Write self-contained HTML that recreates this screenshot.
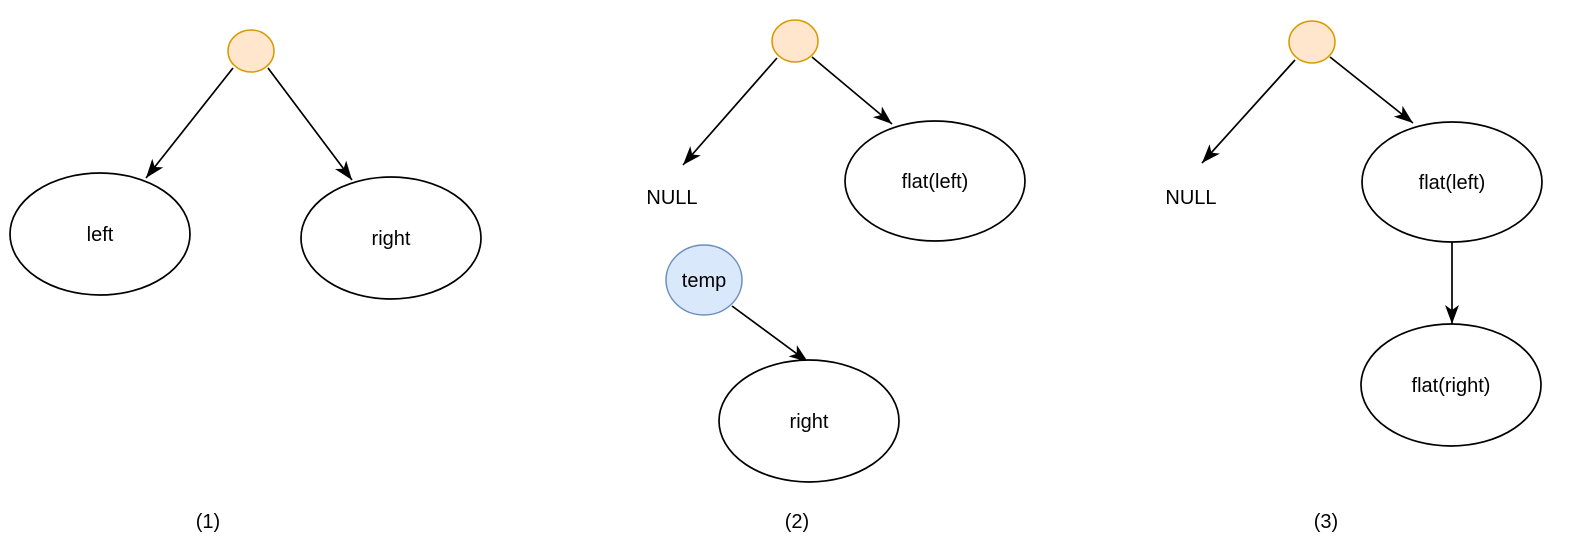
<!DOCTYPE html>
<html><head><style>
html,body{margin:0;padding:0;background:#fff;}
svg text{font-family:"Liberation Sans",Helvetica,Arial,sans-serif;font-size:20px;fill:#000;}
</style></head><body>
<svg width="1574" height="544" viewBox="0 0 1574 544" xmlns="http://www.w3.org/2000/svg">
<g stroke="#000" stroke-width="1.7" fill="none">
<line x1="233" y1="68" x2="146" y2="178"/>
<line x1="268" y1="68" x2="352" y2="180"/>
<line x1="777" y1="58" x2="683" y2="165"/>
<line x1="812" y1="57" x2="892" y2="124"/>
<line x1="732" y1="306" x2="808" y2="362"/>
<line x1="1295" y1="60" x2="1202" y2="163"/>
<line x1="1330" y1="57" x2="1413" y2="123"/>
<line x1="1452" y1="242" x2="1452" y2="324"/>
</g>
<g fill="#000">
<polygon points="0,0 -19,-7 -14,0 -19,7" transform="translate(146,178) rotate(128.3)"/>
<polygon points="0,0 -19,-7 -14,0 -19,7" transform="translate(352,180) rotate(53.1)"/>
<polygon points="0,0 -19,-7 -14,0 -19,7" transform="translate(683,165) rotate(131.3)"/>
<polygon points="0,0 -19,-7 -14,0 -19,7" transform="translate(892,124) rotate(39.9)"/>
<polygon points="0,0 -19,-7 -14,0 -19,7" transform="translate(808,362) rotate(36.4)"/>
<polygon points="0,0 -19,-7 -14,0 -19,7" transform="translate(1202,163) rotate(132.1)"/>
<polygon points="0,0 -19,-7 -14,0 -19,7" transform="translate(1413,123) rotate(38.5)"/>
<polygon points="0,0 -19,-7 -14,0 -19,7" transform="translate(1452,324) rotate(90)"/>
</g>
<g stroke-width="1.5">
<ellipse cx="251" cy="51" rx="23" ry="21" fill="#ffe6cc" stroke="#d79b00"/>
<ellipse cx="795" cy="41" rx="23" ry="21" fill="#ffe6cc" stroke="#d79b00"/>
<ellipse cx="1312" cy="42" rx="23" ry="21" fill="#ffe6cc" stroke="#d79b00"/>
<ellipse cx="704" cy="280" rx="38" ry="35" fill="#dae8fc" stroke="#6c8ebf"/>
</g>
<g fill="#fff" stroke="#000" stroke-width="1.7">
<ellipse cx="100" cy="234" rx="90" ry="61"/>
<ellipse cx="391" cy="238" rx="90" ry="61"/>
<ellipse cx="935" cy="181" rx="90" ry="60"/>
<ellipse cx="809" cy="421" rx="90" ry="61"/>
<ellipse cx="1452" cy="182" rx="90" ry="60"/>
<ellipse cx="1451" cy="385" rx="90" ry="61"/>
</g>
<g text-anchor="middle">
<text x="100" y="241">left</text>
<text x="391" y="245">right</text>
<text x="935" y="188">flat(left)</text>
<text x="809" y="428">right</text>
<text x="704" y="287">temp</text>
<text x="1452" y="189">flat(left)</text>
<text x="1451" y="392">flat(right)</text>
<text x="672" y="204">NULL</text>
<text x="1191" y="204">NULL</text>
<text x="208" y="528">(1)</text>
<text x="797" y="528">(2)</text>
<text x="1326" y="528">(3)</text>
</g>
</svg>
</body></html>
